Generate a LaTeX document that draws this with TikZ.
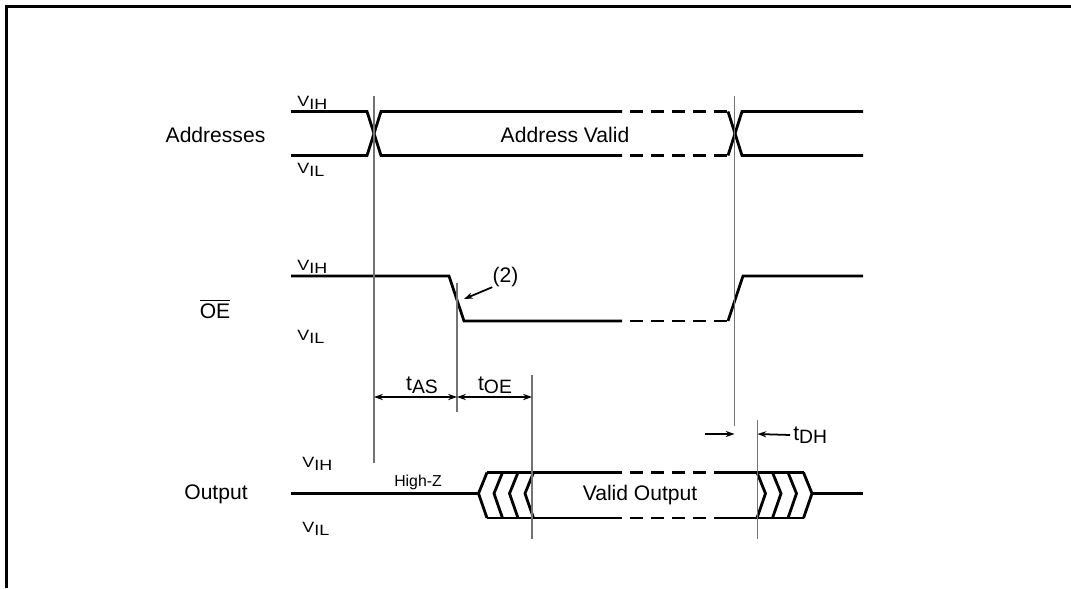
\documentclass[tikz,border=0pt]{standalone}
\usepackage{fontspec}
\setmainfont{Liberation Sans}
\usetikzlibrary{arrows.meta}

\newcommand{\vlev}[1]{\scalebox{1.2}[1]{V\raisebox{-0.3ex}{#1}}}
\newcommand{\tpar}[1]{t\raisebox{-0.3ex}{\fontsize{11}{11}\selectfont #1}}

\begin{document}
\begin{tikzpicture}[
        x=0.02cm, y=-0.02cm,
        >={Stealth[length=5pt, width=3.5pt]},
        sig/.style={line width=1.6pt},
        gap/.style={sig, dash pattern=on 0.26cm off 0.16cm},
        guide/.style={draw=black!55, line width=0.7pt},
        dim/.style={line width=1pt},
        lbl/.style={inner sep=0pt, font=\fontsize{12}{14}\selectfont},
        lvl/.style={inner sep=0pt, anchor=west, font=\fontsize{8.5}{10}\selectfont},
        note/.style={inner sep=0pt, font=\fontsize{9}{11}\selectfont}
    ]

    \useasboundingbox (0,0) rectangle (1071,588);
    \draw[line width=1.4pt] (6.5,588) -- (6.5,6.5) -- (1071,6.5);

    % signal names
    \node[lbl] (addr) at (215.5,135) {Addresses};
    \node[lbl] (oe) at (215,309) {$\overline{\mbox{OE}}$};
    \node[lbl] (out) at (216,494) {Output};

    % levels
    \node[lvl] (ah) at (297,103) {\vlev{IH}};
    \node[lvl] (al) at (297,170) {\vlev{IL}};
    \node[lvl] (oh) at (297,267) {\vlev{IH}};
    \node[lvl] (ol) at (297,337) {\vlev{IL}};
    \node[lvl] (qh) at (302,464) {\vlev{IH}};
    \node[lvl] (ql) at (302,529) {\vlev{IL}};

    % Addresses
    \draw[sig] (291,111.5) -- (367,111.5) -- (381,155.5) -- (622,155.5);
    \draw[sig] (291,155.5) -- (367,155.5) -- (381,111.5) -- (622,111.5);
    \draw[gap] (630,111.5) -- (728,111.5);
    \draw[gap] (630,155.5) -- (728,155.5);
    \draw[sig] (728,111.5) -- (742,155.5) -- (863,155.5);
    \draw[sig] (728,155.5) -- (742,111.5) -- (863,111.5);
    \node[lbl] (addrvalid) at (565,135) {Address Valid};

    % OE
    \draw[sig] (291,276) -- (449,276) -- (464,321) -- (622,321);
    \draw[gap] (630,321) -- (728,321);
    \draw[sig] (728,321) -- (743,276) -- (863,276);

    % Output
    \draw[sig] (291,493.5) -- (478.5,493.5);
    \foreach \p in {478.5,494,509.5,525}
        \draw[sig] (\p+8.5,472.5) -- (\p,493.5) -- (\p+8.5,518);
    \draw[sig] (487,472.5) -- (622,472.5);
    \draw[sig] (487,518) -- (622,518);
    \draw[gap] (630,472.5) -- (720,472.5);
    \draw[gap] (630,518) -- (720,518);
    \draw[sig] (720,472.5) -- (803.5,472.5);
    \draw[sig] (720,518) -- (803.5,518);
    \foreach \t in {757,772.5,788,803.5}
        \draw[sig] (\t,472.5) -- (\t+8.5,493.5) -- (\t,518);
    \draw[sig] (812,493.5) -- (863,493.5);
    \node[note] (hiz) at (418,482) {High-Z};
    \node[lbl] (validout) at (640,495) {Valid Output};

    % timing guides
    \draw[guide] (374,96) -- (374,463);
    \draw[guide] (457,283) -- (457,412);
    \draw[guide] (532,375) -- (532,539);
    \draw[guide] (734.5,96) -- (734.5,426);
    \draw[guide] (757.5,420) -- (757.5,539);

    \coordinate (as1) at (374,397);
    \coordinate (as2) at (457,397);
    \coordinate (oe2) at (532,397);
    \draw[dim, <->] (as1) -- (as2);
    \draw[dim, <->] (as2) -- (oe2);
    \node[lbl] (tas) at (422,385) {\tpar{AS}};
    \node[lbl] (toe) at (495,385) {\tpar{OE}};

    \coordinate (dh1) at (705,434);
    \coordinate (dh2) at (734.5,434);
    \coordinate (dh3) at (757.5,434);
    \node[lbl, anchor=west] (tdh) at (793,435) {\tpar{DH}};
    \draw[dim, ->] (dh1) -- (dh2);
    \draw[dim, ->] (tdh.west) ++(-3,0) coordinate (dh4) -- (dh3);

    % note 2
    \node[lbl] (n2) at (505.5,277) {(2)};
    \coordinate (edge) at (464,299);
    \draw[dim, ->] (n2.south west) -- (edge);

\end{tikzpicture}
\end{document}
